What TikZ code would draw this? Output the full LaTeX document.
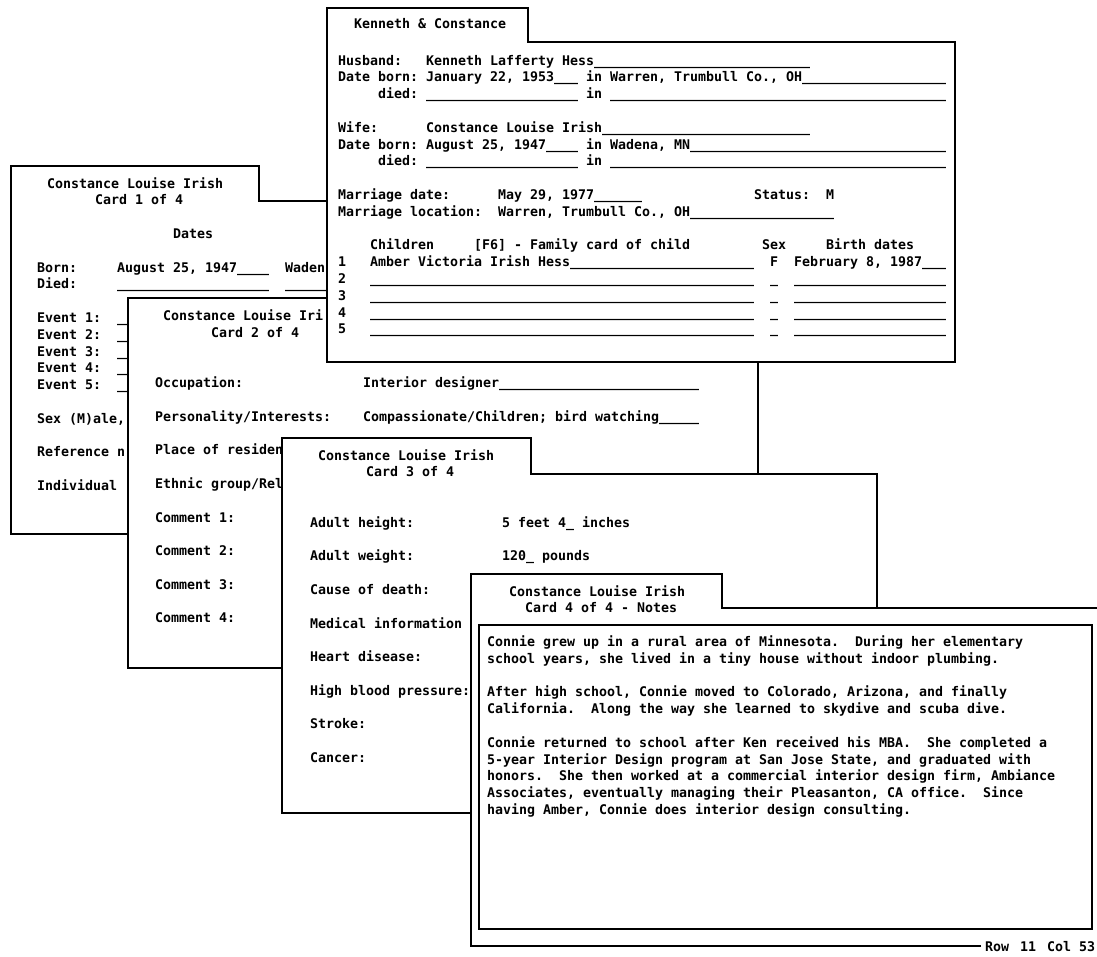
\documentclass[tikz,border=0pt]{standalone}
\usepackage{fontspec}
\newfontfamily\dosfont{DejaVu Sans Mono}[BoldFont={DejaVu Sans Mono Bold}]
\tikzset{
  card/.style= {draw, fill=white, line width=1.4pt},
  cardline/.style= {draw, line width=1.4pt},
  txt/.style= {anchor=base west, inner sep=0pt, font=\dosfont\bfseries\fontsize{13.29}{16}\selectfont},
}
% underscore runs
\newcommand\us[1]{\ifnum#1>0 \char"5F\relax\expandafter\us\expandafter{\the\numexpr#1-1\relax}\fi}
% text at column / row of a card
\newcommand\tx[4]{\node[txt] (#1) at ({#2*8},{#3*16.8+5}) {#4};}

\begin{document}
\frenchspacing
\begin{tikzpicture}[x=1pt, y=-1pt]
  \path[use as bounding box, fill=white] (0,0) rectangle (1097,956);

  % card 1
  \filldraw[card] (11,166) -- (259,166) -- (259,201) -- (639,201) -- (639,534) -- (11,534) -- cycle;
  \begin{scope}[shift={(37,183)}]
    \tx{c1h1}{1.25}{0}{Constance Louise Irish}
    \tx{c1h2}{7.25}{1}{Card 1 of 4}
    \tx{c1dates}{17}{3}{Dates}
    \tx{c1born}{0}{5}{Born:}
    \tx{c1bornv}{10}{5}{August 25, 1947\us{4}}
    \tx{c1bornp}{31}{5}{Waden}
    \tx{c1died}{0}{6}{Died:}
    \tx{c1diedv}{10}{6}{\us{19}}
    \tx{c1diedp}{31}{6}{\us{6}}
    \foreach \n [evaluate=\n as \r using \n+7] in {1,...,5} {
      \tx{c1ev\n}{0}{\r}{Event \n:}
      \tx{c1evl\n}{10}{\r}{\us{2}}
    }
    \tx{c1sex}{0}{14}{Sex (M)ale,}
    \tx{c1ref}{0}{16}{Reference n}
    \tx{c1ind}{0}{18}{Individual}
  \end{scope}

  % card 2
  \filldraw[card] (128,298) -- (377,298) -- (377,332) -- (758,332) -- (758,668) -- (128,668) -- cycle;
  \begin{scope}[shift={(155,315.5)}]
    \tx{c2h1}{1}{0}{Constance Louise Iri}
    \tx{c2h2}{7}{1}{Card 2 of 4}
    \tx{c2occ}{0}{4}{Occupation:}
    \tx{c2occv}{26}{4}{Interior designer\us{25}}
    \tx{c2per}{0}{6}{Personality/Interests:}
    \tx{c2perv}{26}{6}{Compassionate/Children; bird watching\us{5}}
    \tx{c2res}{0}{8}{Place of residen}
    \tx{c2eth}{0}{10}{Ethnic group/Rel}
    \foreach \n [evaluate=\n as \r using 2*\n+10] in {1,...,4} {
      \tx{c2com\n}{0}{\r}{Comment \n:}
    }
  \end{scope}

  % family card
  \filldraw[card] (327,8) -- (528,8) -- (528,42) -- (955,42) -- (955,362) -- (327,362) -- cycle;
  \begin{scope}[shift={(338,60)}]
    \tx{fhead}{2}{-2.15}{Kenneth \& Constance}
    \tx{fhus}{0}{0}{Husband:}
    \tx{fhusv}{11}{0}{Kenneth Lafferty Hess\us{27}}
    \tx{fhb}{0}{1}{Date born:}
    \tx{fhbv}{11}{1}{January 22, 1953\us{3}}
    \tx{fhbin}{31}{1}{in}
    \tx{fhbp}{34}{1}{Warren, Trumbull Co., OH\us{18}}
    \tx{fhd}{5}{2}{died:}
    \tx{fhdv}{11}{2}{\us{19}}
    \tx{fhdin}{31}{2}{in}
    \tx{fhdp}{34}{2}{\us{42}}
    \tx{fwif}{0}{4}{Wife:}
    \tx{fwifv}{11}{4}{Constance Louise Irish\us{26}}
    \tx{fwb}{0}{5}{Date born:}
    \tx{fwbv}{11}{5}{August 25, 1947\us{4}}
    \tx{fwbin}{31}{5}{in}
    \tx{fwbp}{34}{5}{Wadena, MN\us{32}}
    \tx{fwd}{5}{6}{died:}
    \tx{fwdv}{11}{6}{\us{19}}
    \tx{fwdin}{31}{6}{in}
    \tx{fwdp}{34}{6}{\us{42}}
    \tx{fmd}{0}{8}{Marriage date:}
    \tx{fmdv}{20}{8}{May 29, 1977\us{6}}
    \tx{fst}{52}{8}{Status:}
    \tx{fstv}{61}{8}{M}
    \tx{fml}{0}{9}{Marriage location:}
    \tx{fmlv}{20}{9}{Warren, Trumbull Co., OH\us{18}}
    \tx{fch}{4}{11}{Children}
    \tx{fchf}{17}{11}{[F6] - Family card of child}
    \tx{fsex}{53}{11}{Sex}
    \tx{fbd}{61}{11}{Birth dates}
    \tx{fn1}{0}{12}{1}
    \tx{fc1}{4}{12}{Amber Victoria Irish Hess\us{23}}
    \tx{fs1}{54}{12}{F}
    \tx{fb1}{57}{12}{February 8, 1987\us{3}}
    \foreach \n [evaluate=\n as \r using \n+11] in {2,...,5} {
      \tx{fn\n}{0}{\r}{\n}
      \tx{fc\n}{4}{\r}{\us{48}}
      \tx{fs\n}{54}{\r}{\us{1}}
      \tx{fb\n}{57}{\r}{\us{19}}
    }
  \end{scope}

  % card 3
  \filldraw[card] (282,438) -- (531,438) -- (531,474) -- (877,474) -- (877,813) -- (282,813) -- cycle;
  \begin{scope}[shift={(310,455)}]
    \tx{c3h1}{1}{0}{Constance Louise Irish}
    \tx{c3h2}{7}{1}{Card 3 of 4}
    \tx{c3hgt}{0}{4}{Adult height:}
    \tx{c3hgtv}{24}{4}{5 feet 4\us{1} inches}
    \tx{c3wgt}{0}{6}{Adult weight:}
    \tx{c3wgtv}{24}{6}{120\us{1} pounds}
    \tx{c3cod}{0}{8}{Cause of death:}
    \tx{c3med}{0}{10}{Medical information (}
    \tx{c3hrt}{0}{12}{Heart disease:}
    \tx{c3hbp}{0}{14}{High blood pressure:}
    \tx{c3str}{0}{16}{Stroke:}
    \tx{c3can}{0}{18}{Cancer:}
  \end{scope}

  % card 4, notes
  \fill[white] (471,574) -- (722,574) -- (722,608) -- (1110,608) -- (1110,946) -- (471,946) -- cycle;
  \node[txt] (status) at (985,951) {Row\hspace{11pt}11\hspace{11pt}Col 53};
  \draw[cardline] (status.west |- 0,946) ++(-4,0) -- (471,946) -- (471,574) -- (722,574) -- (722,608) -- (1110,608);
  \draw[cardline] (479,625) rectangle (1092,929);
  \begin{scope}[shift={(487,591)}]
    \tx{c4h1}{2.75}{0}{Constance Louise Irish}
    \tx{c4h2}{4.75}{1}{Card 4 of 4 - Notes}
    \tx{n1}{0}{3}{Connie grew up in a rural area of Minnesota.~ During her elementary}
    \tx{n2}{0}{4}{school years, she lived in a tiny house without indoor plumbing.}
    \tx{n3}{0}{6}{After high school, Connie moved to Colorado, Arizona, and finally}
    \tx{n4}{0}{7}{California.~ Along the way she learned to skydive and scuba dive.}
    \tx{n5}{0}{9}{Connie returned to school after Ken received his MBA.~ She completed a}
    \tx{n6}{0}{10}{5-year Interior Design program at San Jose State, and graduated with}
    \tx{n7}{0}{11}{honors.~ She then worked at a commercial interior design firm, Ambiance}
    \tx{n8}{0}{12}{Associates, eventually managing their Pleasanton, CA office.~ Since}
    \tx{n9}{0}{13}{having Amber, Connie does interior design consulting.}
  \end{scope}
\end{tikzpicture}
\end{document}
